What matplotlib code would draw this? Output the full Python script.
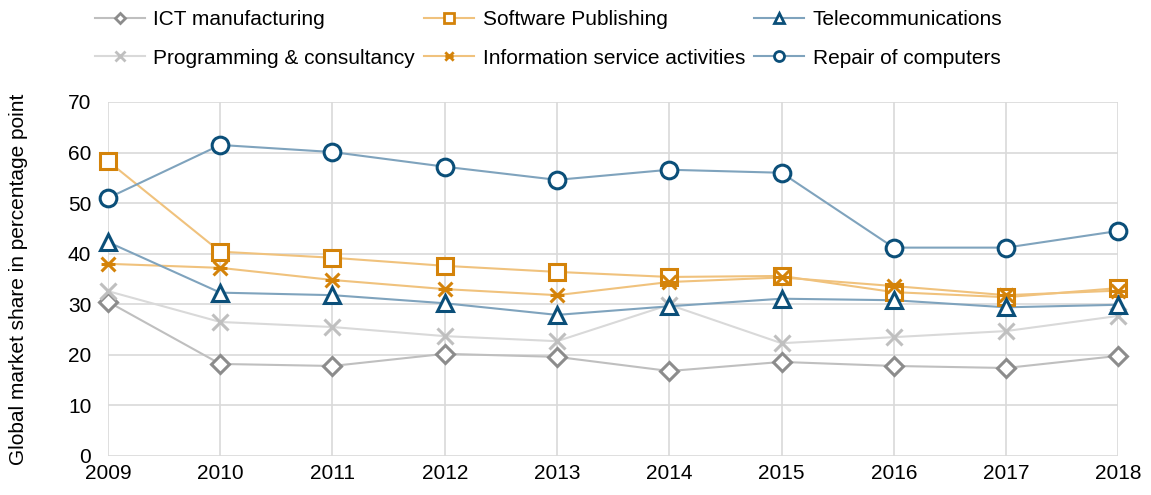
import matplotlib.pyplot as plt
from matplotlib.lines import Line2D
from matplotlib.path import Path

plt.rcParams['font.family'] = ['Liberation Sans', 'DejaVu Sans']

years = [2009, 2010, 2011, 2012, 2013, 2014, 2015, 2016, 2017, 2018]
ict_manuf = [30.5, 18.2, 17.8, 20.2, 19.6, 16.8, 18.6, 17.8, 17.4, 19.8]
software = [58.3, 40.4, 39.2, 37.6, 36.4, 35.4, 35.6, 32.4, 31.4, 33.2]
telecom = [42.3, 32.3, 31.8, 30.2, 27.9, 29.6, 31.1, 30.8, 29.4, 29.9]
programming = [32.6, 26.5, 25.5, 23.7, 22.7, 29.9, 22.3, 23.5, 24.7, 27.7]
info_service = [38.0, 37.2, 34.8, 33.0, 31.8, 34.4, 35.3, 33.6, 31.8, 32.7]
repair = [51.0, 61.5, 60.1, 57.2, 54.6, 56.6, 56.0, 41.2, 41.2, 44.5]

orange = '#d4830a'
orange_line = '#f0c27d'
blue = '#0b4f79'
blue_line = '#7fa3bd'

# x with a horizontal bar (Excel "star" marker)
star = Path([(-1, -1), (1, 1), (-1, 1), (1, -1), (-1, 0), (1, 0)],
            [Path.MOVETO, Path.LINETO, Path.MOVETO, Path.LINETO, Path.MOVETO, Path.LINETO])

# (label, values, marker, marker colour, line colour, marker size)
series = [
    ('ICT manufacturing', ict_manuf, 'D', '#8c8c8c', '#bfbfbf', 9),
    ('Programming & consultancy', programming, 'x', '#bfbfbf', '#d9d9d9', 11),
    ('Software Publishing', software, 's', orange, orange_line, 11),
    ('Information service activities', info_service, star, orange, orange_line, 10),
    ('Telecommunications', telecom, '^', blue, blue_line, 12),
    ('Repair of computers', repair, 'o', blue, blue_line, 12),
]

fig = plt.figure(figsize=(11.51, 4.95), dpi=100)
ax = fig.add_axes([0.0938, 0.0788, 0.8778, 0.7152])

handles = []
for label, vals, mk, mc, lc, ms in series:
    ax.plot(years, vals, color=lc, linewidth=1.5, zorder=2)
    ax.plot(years, vals, linestyle='none', marker=mk, markersize=ms,
            markerfacecolor='white', markeredgecolor=mc, markeredgewidth=2.2,
            clip_on=False, zorder=3)
    handles.append(Line2D([0], [0], color=lc, linewidth=1.5, marker=mk,
                          markersize=ms * 0.6, markerfacecolor='white',
                          markeredgecolor=mc, markeredgewidth=2.0, label=label))

ax.set_xlim(2009, 2018)
ax.set_ylim(0, 70)
ax.set_xticks(years)
ax.set_yticks(range(0, 71, 10))
ax.tick_params(labelsize=15, length=0)
ax.tick_params(axis='y', pad=12)
ax.tick_params(axis='x', pad=6)
ax.grid(True, color='#d9d9d9', linewidth=1.2)
ax.set_axisbelow(True)
for s in ax.spines.values():
    s.set_visible(False)
ax.set_ylabel('Global market share in percentage point', fontsize=15)
ax.yaxis.set_label_coords(-0.079, 0.5)

fig.legend(handles=handles, ncol=3, loc='upper left', bbox_to_anchor=(0.0825, 0.98),
           frameon=False, fontsize=15, handlelength=2.4, columnspacing=0.45,
           labelspacing=0.95, handletextpad=0.4, borderpad=0, borderaxespad=0)

fig.savefig('out.png', dpi=100)
